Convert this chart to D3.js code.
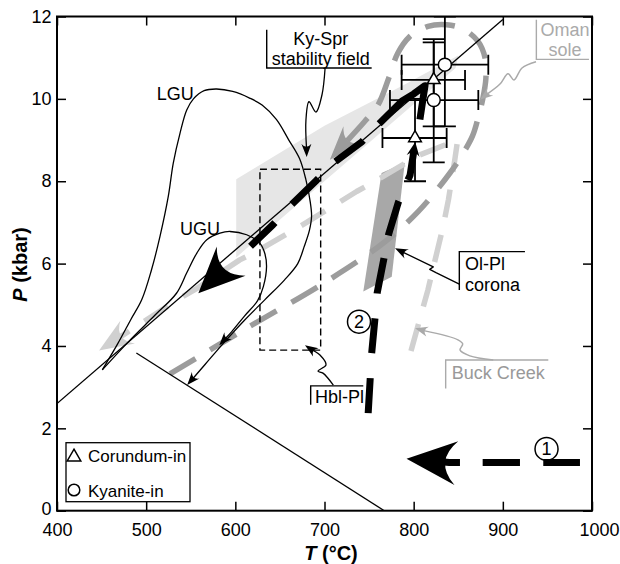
<!DOCTYPE html>
<html><head><meta charset="utf-8">
<script src="https://cdn.jsdelivr.net/npm/d3@7"></script>
<style>
body{margin:0;background:#fff;}
svg{display:block;font-family:"Liberation Sans",Arial,Helvetica,sans-serif;}
</style></head><body>
<svg id="chart" width="620" height="564"></svg>
<script>
// ---------- data (T in °C, P in kbar) ----------
const xTicks=[400,500,600,700,800,900,1000];
const yTicks=[0,2,4,6,8,10,12];

const reaction1=[[400,2.6],[900,11.93]];
const reaction2=[[489,3.83],[767,0]];

const lguPT=[[450.8,3.42],[468,4.05],[483,4.65],[495,5.12],[506,5.85],[515.5,6.66],[524.8,7.63],[530.4,8.44],[538,9.17],[545.5,9.73],[553,10.0],[565,10.2],[579,10.24],[597,10.18],[616,10.02],[630,9.85],[646,9.5],[660,9.0],[672,8.55],[679,8.05],[684,7.5],[685.5,7.15],[683,6.8],[677,6.4],[670,6.0],[655,5.6],[633,5.12],[610,4.62],[588,4.1],[566,3.55],[546,3.05]];
const uguPT=[[450.8,3.42],[480,4.1],[510,4.75],[534,5.28],[545.4,5.77],[556.7,6.25],[568,6.58],[582.8,6.74],[594,6.78],[612.7,6.70],[627.6,6.49],[633,6.25],[635,5.93],[631.4,5.44],[625,5.1],[610,4.72],[596,4.35],[582,4.02]];

const kySprField=[[601,6.15],[601,8.05],[700,9.35],[790,10.35],[850,11.05],[847,10.75]];
const olPlCorona=[[764,8.2],[790,8.45],[775.4,5.68],[743.5,5.32]];
const hblPlBox=[[627.6,3.9],[695.7,8.29]];

const omanSolePT=[[526.7,3.32],[610,4.4],[698.7,5.52],[766,6.5],[805,7.26],[840.7,8.2],[856,8.7],[866,9.1],[873,9.6],[877.5,10.0],[881,10.5],[880,11.0],[872,11.4],[855,11.7],[837,11.8],[816,11.76],[795,11.5],[782,11.1],[772,10.5],[760,9.85],[745,9.45],[706,8.52]];
const buckCreekPT=[[797,3.88],[816,5.36],[833,6.9],[839,7.55],[846,8.5],[849,8.95],[846,9.05],[835,8.88],[807,8.64],[780,8.3],[753,7.95],[736,7.75],[680,7.0],[620,6.25],[605,6.09],[557,5.4],[538,5.16],[447.2,3.89]];

const path2Prograde=[[749,2.37],[752.9,3.82],[756.6,4.67],[759,5.28],[766.7,6.13],[772,6.72],[783,7.5],[796,8.15],[801.8,8.95]];
const path2Retro=[[807,9.5],[812.7,10.32],[800,10.12],[787,9.95],[760,9.37],[742,8.96],[710,8.44],[690,8.0],[661,7.39],[642,6.94],[615,6.38],[590,5.95],[558.5,5.28]];
const path1=[[986.5,1.17],[840,1.17],[792,1.26]];

const ptMineral=['kyanite','corundum','kyanite','corundum'];
const ptT=[835,822.5,822.5,801.5];
const ptP=[10.83,10.46,9.97,9.05];
const ptTlo=[786.5,786.5,773.4,765];
const ptThi=[883.7,857.6,872.5,837];
const ptPlo=[9.33,9.33,8.46,8.0];
const ptPhi=[12.0,11.45,11.37,10.0];

const kySprArrow=[[700.6,10.73],[697.2,10.10],[690.4,9.68],[682.6,9.93],[679.2,9.49],[680,8.59]];
const olPlArrow=[[851.2,5.50],[825,5.78],[818,5.86],[822,5.92],[779.1,6.37]];
const buckArrow=[[889.3,3.66],[863,3.76],[852,3.9],[855,4.05],[849.7,4.15],[801.5,4.43]];
const omanArrow=[[937.2,10.90],[921.5,10.75],[912.5,10.46],[905.8,10.61],[896.8,10.36],[874.4,9.98]];
const hblArrow=[[709.9,3.05],[698.3,3.34],[692.7,3.39],[701.7,3.54],[694.9,3.78],[678.1,4.02]];

const kySprBracket=[[635.2,11.68],[635.2,10.75],[752.9,10.75]];
const olPlBracket=[[924.8,6.29],[851.2,6.29],[851.2,5.36]];
const buckBracket=[[951,3.66],[835.9,3.66],[835.9,2.97]];
const omanBracket=[[937.6,11.92],[937.6,10.96],[996.6,10.96]];
const hblBracket=[[743.5,3.03],[684.5,3.03],[684.5,2.57]];

const labels=[
 {t:'LGU',T:511.8,P:9.98,a:'start',c:'#000'},
 {t:'UGU',T:537.9,P:6.70,a:'start',c:'#000'},
 {t:'Ky-Spr',T:665,P:11.31,a:'start',c:'#000'},
 {t:'stability field',T:640.8,P:10.83,a:'start',c:'#000'},
 {t:'Ol-Pl',T:857.5,P:5.85,a:'start',c:'#000'},
 {t:'corona',T:857.5,P:5.34,a:'start',c:'#000'},
 {t:'Buck Creek',T:842.6,P:3.19,a:'start',c:'#999'},
 {t:'Oman',T:969.7,P:11.53,a:'middle',c:'#aaa'},
 {t:'sole',T:969.7,P:11.05,a:'middle',c:'#aaa'},
 {t:'Hbl-Pl',T:689.3,P:2.62,a:'start',c:'#000'}
];
const circledNums=[{t:'1',T:949,P:1.5},{t:'2',T:738.7,P:4.59}];

// ---------- drawing ----------
const svg=d3.select('#chart');
const M={l:57,r:592,t:16.5,b:510.7};
const x=d3.scaleLinear().domain([400,1000]).range([M.l,M.r]);
const y=d3.scaleLinear().domain([0,12]).range([M.b,M.t]);

svg.append('rect').attr('width',620).attr('height',564).attr('fill','#fff');
svg.append('defs').append('clipPath').attr('id','pc').append('rect')
  .attr('x',M.l).attr('y',M.t).attr('width',M.r-M.l).attr('height',M.b-M.t);
const g=svg.append('g').attr('clip-path','url(#pc)');

const toPx=a=>a.map(d=>[x(d[0]),y(d[1])]);
const lin=d3.line();
const cr=d3.line().curve(d3.curveCatmullRom.alpha(0.5));

function arrowLine(gg,data,o){
  const p=toPx(data),n=p.length,tip=p[n-1],prev=p[n-2];
  let ux=tip[0]-prev[0],uy=tip[1]-prev[1];const len=Math.hypot(ux,uy);ux/=len;uy/=len;
  const nx=-uy,ny=ux,L=o.L,W=o.W;
  const back=[tip[0]-ux*L,tip[1]-uy*L];
  const w1=[back[0]+nx*W/2,back[1]+ny*W/2],w2=[back[0]-nx*W/2,back[1]-ny*W/2];
  const c=[tip[0]-ux*L*0.55,tip[1]-uy*L*0.55];
  const end=[tip[0]-ux*L*0.7,tip[1]-uy*L*0.7];
  const pts=p.slice(0,n-1).concat([end]);
  gg.append('path').attr('d',(o.curve?cr:lin)(pts)).attr('fill','none')
    .attr('stroke',o.color).attr('stroke-width',o.sw)
    .attr('stroke-dasharray',o.dash||null).attr('stroke-dashoffset',o.offset||0)
    .attr('stroke-linejoin','round');
  gg.append('path').attr('d',`M${tip[0]},${tip[1]}L${w1[0]},${w1[1]}Q${c[0]},${c[1]} ${w2[0]},${w2[1]}Z`)
    .attr('fill',o.color);
}

// fields
g.append('path').attr('d',lin(toPx(kySprField))+'Z').attr('fill','#e6e6e6');
g.append('path').attr('d',lin(toPx(olPlCorona))+'Z').attr('fill','#a8a8a8');

// gray P-T paths
arrowLine(g,buckCreekPT,{color:'#d0d0d0',sw:5.5,dash:'28,18',L:34,W:27});
arrowLine(g,omanSolePT,{color:'#9c9c9c',sw:5.5,dash:'30,17',L:34,W:25,curve:true});

// reaction lines
g.append('path').attr('d',lin(toPx(reaction1))).attr('stroke','#000').attr('stroke-width',1.3).attr('fill','none');
g.append('path').attr('d',lin(toPx(reaction2))).attr('stroke','#000').attr('stroke-width',1.3).attr('fill','none');

// Hbl-Pl box
g.append('rect').attr('x',x(hblPlBox[0][0])).attr('y',y(hblPlBox[1][1]))
  .attr('width',x(hblPlBox[1][0])-x(hblPlBox[0][0])).attr('height',y(hblPlBox[0][1])-y(hblPlBox[1][1]))
  .attr('fill','none').attr('stroke','#000').attr('stroke-width',1.4).attr('stroke-dasharray','7,4');

// LGU / UGU
arrowLine(g,lguPT,{color:'#000',sw:1.3,L:13,W:10,curve:true});
arrowLine(g,uguPT,{color:'#000',sw:1.3,L:13,W:10,curve:true});

// circled path numbers (drawn beneath the black paths)
circledNums.forEach(c=>{
  g.append('circle').attr('cx',x(c.T)).attr('cy',y(c.P)).attr('r',11.5).attr('fill','#fff').attr('stroke','#000').attr('stroke-width',1.5);
  g.append('text').attr('x',x(c.T)).attr('y',y(c.P)).attr('dy','0.36em').attr('text-anchor','middle').attr('font-size',18).text(c.t);
});

// black dashed paths
arrowLine(g,path2Prograde,{color:'#000',sw:7,dash:'35,25,35,25,36,23,36,23,200',L:14,W:13});
arrowLine(g,path2Retro,{color:'#000',sw:7,dash:'94,23,35,24,37,25,34,300',L:46,W:41});
arrowLine(g,path1,{color:'#000',sw:7,dash:'36.7,23.3,37.3,22.7,200',L:50,W:44});

// error bars
const eb=g.append('g').attr('stroke','#000').attr('stroke-width',1.8);
ptT.forEach((T,i)=>{
  const cx=x(T),cy=y(ptP[i]);
  eb.append('line').attr('x1',x(ptTlo[i])).attr('x2',x(ptThi[i])).attr('y1',cy).attr('y2',cy);
  eb.append('line').attr('x1',cx).attr('x2',cx).attr('y1',y(ptPlo[i])).attr('y2',y(ptPhi[i]));
  [ptTlo[i],ptThi[i]].forEach(t=>eb.append('line').attr('x1',x(t)).attr('x2',x(t)).attr('y1',cy-10).attr('y2',cy+10));
  [ptPlo[i],ptPhi[i]].forEach(p=>eb.append('line').attr('x1',cx-11).attr('x2',cx+11).attr('y1',y(p)).attr('y2',y(p)));
});
ptT.forEach((T,i)=>{
  const cx=x(T),cy=y(ptP[i]);
  if(ptMineral[i]==='kyanite') g.append('circle').attr('cx',cx).attr('cy',cy).attr('r',6.5).attr('fill','#fff').attr('stroke','#000').attr('stroke-width',1.5);
  else g.append('path').attr('d',d3.symbol(d3.symbolTriangle,70)()).attr('transform',`translate(${cx},${cy})`).attr('fill','#fff').attr('stroke','#000').attr('stroke-width',1.5);
});

// annotation arrows and brackets
arrowLine(g,kySprArrow,{color:'#000',sw:1.3,L:13,W:10,curve:true});
arrowLine(g,olPlArrow,{color:'#000',sw:1.3,L:13,W:10});
arrowLine(g,buckArrow,{color:'#aaa',sw:1.5,L:13,W:10,curve:true});
arrowLine(g,omanArrow,{color:'#aaa',sw:1.5,L:13,W:10,curve:true});
arrowLine(g,hblArrow,{color:'#000',sw:1.3,L:13,W:10,curve:true});
[[kySprBracket,'#000'],[olPlBracket,'#000'],[hblBracket,'#000'],[buckBracket,'#aaa'],[omanBracket,'#aaa']].forEach(([b,c])=>{
  g.append('path').attr('d',lin(toPx(b))).attr('fill','none').attr('stroke',c).attr('stroke-width',1.4);
});

labels.forEach(l=>{
  g.append('text').attr('x',x(l.T)).attr('y',y(l.P)).attr('text-anchor',l.a)
   .attr('font-size',18).attr('fill',l.c).text(l.t);
});

// legend
const lg=svg.append('g');
lg.append('rect').attr('x',66).attr('y',442.7).attr('width',124).attr('height',59).attr('fill','#fff').attr('stroke','#000').attr('stroke-width',1.3);
lg.append('path').attr('d',d3.symbol(d3.symbolTriangle,80)()).attr('transform','translate(74,457)').attr('fill','#fff').attr('stroke','#000').attr('stroke-width',1.5);
lg.append('circle').attr('cx',74).attr('cy',490).attr('r',5.8).attr('fill','#fff').attr('stroke','#000').attr('stroke-width',1.5);
lg.append('text').attr('x',88).attr('y',461.7).attr('font-size',17).text('Corundum-in');
lg.append('text').attr('x',88).attr('y',496.5).attr('font-size',17).text('Kyanite-in');

// axes
const ax=svg.append('g');
const fmt=d=>d;
const xb=ax.append('g').attr('transform',`translate(0,${M.b})`).call(d3.axisBottom(x).tickValues(xTicks).tickSize(-9).tickSizeOuter(0).tickPadding(12.5).tickFormat(fmt));
const yl=ax.append('g').attr('transform',`translate(${M.l},0)`).call(d3.axisLeft(y).tickValues(yTicks).tickSize(-9).tickSizeOuter(0).tickPadding(5.5).tickFormat(fmt));
ax.append('g').attr('transform',`translate(0,${M.t})`).call(d3.axisTop(x).tickValues(xTicks).tickSize(-9).tickSizeOuter(0).tickFormat(''));
ax.append('g').attr('transform',`translate(${M.r},0)`).call(d3.axisRight(y).tickValues(yTicks).tickSize(-9).tickSizeOuter(0).tickFormat(''));
ax.selectAll('.domain').remove();
ax.selectAll('.tick line').attr('stroke','#000').attr('stroke-width',1.5);
ax.selectAll('.tick text').attr('fill','#000').attr('font-size',18).attr('font-family','"Liberation Sans",Arial,sans-serif');
xb.selectAll('.tick text').filter(d=>d===1000).attr('dx',7);
yl.selectAll('.tick text').filter(d=>d===0).attr('dy','0.2em');
svg.append('rect').attr('x',M.l).attr('y',M.t).attr('width',M.r-M.l).attr('height',M.b-M.t)
  .attr('fill','none').attr('stroke','#000').attr('stroke-width',2);

// axis titles
const yt=svg.append('text').attr('transform',`translate(27,264.5) rotate(-90)`).attr('text-anchor','middle')
  .attr('font-size',20).attr('font-weight','bold');
yt.append('tspan').attr('font-style','italic').text('P');
yt.append('tspan').text(' (kbar)');
const xt=svg.append('text').attr('x',331).attr('y',560).attr('text-anchor','middle')
  .attr('font-size',20).attr('font-weight','bold');
xt.append('tspan').attr('font-style','italic').text('T');
xt.append('tspan').text(' (°C)');
</script>
</body></html>
